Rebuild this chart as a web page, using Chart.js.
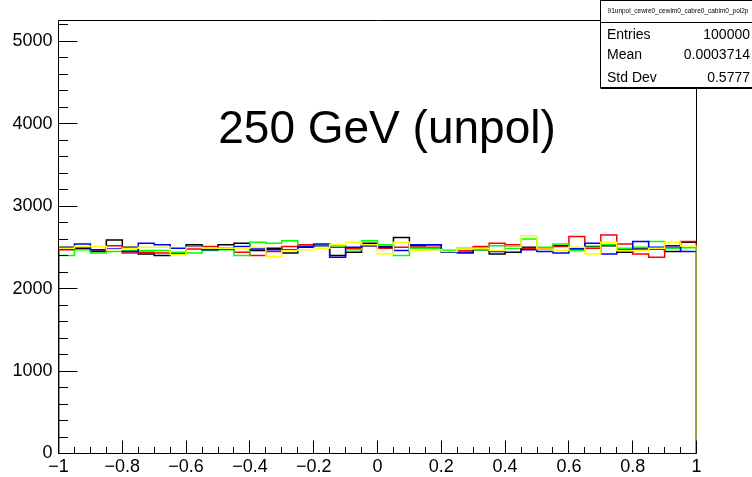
<!DOCTYPE html>
<html>
<head>
<meta charset="utf-8">
<script src="https://cdn.jsdelivr.net/npm/chart.js@4/dist/chart.umd.min.js"></script>
<style>
  html, body { margin: 0; padding: 0; background: #fff; }
</style>
</head>
<body>
<canvas id="chart-graph-costheta" width="752" height="477"></canvas>
<script>
// histogram: 40 bins from -1 to 1
var binLow = -1, binHigh = 1, nBins = 40;

var blackValues = [2500, 2490, 2450, 2590, 2500, 2420, 2400, 2420, 2530, 2480,
                   2530, 2550, 2460, 2490, 2430, 2500, 2520, 2400, 2440, 2550,
                   2510, 2620, 2520, 2530, 2450, 2440, 2470, 2420, 2440, 2500,
                   2480, 2520, 2480, 2510, 2520, 2440, 2480, 2480, 2450, 2560];
var redValues = [2470, 2500, 2460, 2520, 2430, 2440, 2430, 2430, 2480, 2510,
                 2490, 2440, 2400, 2450, 2510, 2530, 2530, 2500, 2490, 2520,
                 2490, 2500, 2500, 2500, 2460, 2460, 2510, 2550, 2530, 2490,
                 2490, 2510, 2630, 2490, 2650, 2540, 2420, 2380, 2500, 2570];
var greenValues = [2400, 2470, 2430, 2450, 2460, 2460, 2460, 2440, 2430, 2460,
                   2470, 2400, 2560, 2550, 2580, 2520, 2530, 2520, 2470, 2580,
                   2530, 2400, 2490, 2490, 2460, 2490, 2470, 2520, 2490, 2600,
                   2500, 2540, 2460, 2500, 2530, 2490, 2500, 2570, 2490, 2495];
var blueValues = [2480, 2540, 2470, 2480, 2450, 2550, 2530, 2490, 2510, 2470,
                  2480, 2510, 2480, 2470, 2470, 2510, 2540, 2380, 2500, 2520,
                  2500, 2460, 2530, 2530, 2440, 2430, 2490, 2450, 2500, 2470,
                  2450, 2430, 2490, 2550, 2420, 2470, 2570, 2500, 2520, 2450];
var yellowValues = [2490, 2510, 2510, 2470, 2490, 2500, 2500, 2410, 2500, 2490,
                    2490, 2490, 2500, 2390, 2460, 2470, 2490, 2530, 2560, 2530,
                    2420, 2560, 2460, 2470, 2450, 2480, 2490, 2460, 2500, 2640,
                    2480, 2460, 2500, 2420, 2560, 2460, 2460, 2490, 2560, 2515];

var xTickLabels = [-1, -0.8, -0.6, -0.4, -0.2, 0, 0.2, 0.4, 0.6, 0.8, 1];
var yTickLabels = [0, 1000, 2000, 3000, 4000, 5000];

var histTitle = '91unpol_cewre0_cewim0_cabre0_cabim0_pol2p';
var statNames = ['Entries', 'Mean', 'Std Dev'];
var statValues = ['100000', '0.0003714', '0.5777'];
var plotLabel = '250 GeV (unpol)';

var FONT = '"Liberation Sans", Arial, Helvetica, sans-serif';

function histPoints(values) {
    var w = (binHigh - binLow) / nBins;
    var pts = [{x: binLow, y: 0}];
    values.forEach(function (v, i) {
        pts.push({x: binLow + i * w, y: v});
    });
    pts.push({x: binHigh, y: 0});
    return pts;
}

function fmt(v) {
    var s = String(Number(v.toFixed(2)));
    return s.replace('-', '\u2212');
}

function isMajorX(v) {
    return xTickLabels.some(function (t) { return Math.abs(t - v) < 1e-6; });
}

var rootFrame = {
    id: 'rootFrame',
    beforeDatasetsDraw: function (chart) {
        var a = chart.chartArea, ctx = chart.ctx;
        ctx.save();
        ctx.strokeStyle = '#000';
        ctx.lineWidth = 1;
        ctx.beginPath();
        ctx.moveTo(a.left, a.top);
        ctx.lineTo(a.right, a.top);
        ctx.lineTo(a.right, a.bottom);
        ctx.stroke();
        ctx.restore();
    },
    afterDatasetsDraw: function (chart) {
        var a = chart.chartArea, ctx = chart.ctx;
        var xs = chart.scales.x, ys = chart.scales.y;
        ctx.save();
        ctx.strokeStyle = '#000';
        ctx.lineWidth = 1;
        ctx.beginPath();
        ctx.moveTo(a.left, a.top);
        ctx.lineTo(a.left, a.bottom);
        ctx.lineTo(a.right, a.bottom);
        xs.ticks.forEach(function (t) {
            var px = Math.floor(xs.getPixelForValue(t.value)) + 0.5;
            var len = isMajorX(t.value) ? 13 : 6.5;
            ctx.moveTo(px, a.bottom);
            ctx.lineTo(px, a.bottom - len);
        });
        ys.ticks.forEach(function (t) {
            var py = Math.floor(ys.getPixelForValue(t.value)) + 0.5;
            var len = (t.value % 1000 === 0) ? 19 : 9.5;
            ctx.moveTo(a.left, py);
            ctx.lineTo(a.left + len, py);
        });
        ctx.stroke();
        ctx.restore();
    },
    afterDraw: function (chart) {
        var ctx = chart.ctx;
        ctx.save();
        // label inside the pad
        ctx.fillStyle = '#000';
        ctx.font = '46px ' + FONT;
        ctx.textAlign = 'center';
        ctx.textBaseline = 'alphabetic';
        ctx.fillText(plotLabel, 387, 143);

        // stats box
        var bx = 600.5, by = 0.5, bw = 152, bh = 87;
        ctx.fillStyle = '#fff';
        ctx.fillRect(bx, by, bw, bh);
        ctx.strokeStyle = '#000';
        ctx.lineWidth = 1;
        ctx.strokeRect(bx, by, bw, bh);
        ctx.beginPath();
        ctx.moveTo(bx, 22.5);
        ctx.lineTo(bx + bw, 22.5);
        ctx.moveTo(bx, 88.5);
        ctx.lineTo(bx + bw, 88.5);
        ctx.stroke();

        ctx.fillStyle = '#000';
        ctx.font = '6.5px ' + FONT;
        ctx.textAlign = 'center';
        ctx.fillText(histTitle, 678, 13, 144);

        ctx.font = '14px ' + FONT;
        var rows = [38.5, 59, 82];
        statNames.forEach(function (n, i) {
            ctx.textAlign = 'left';
            ctx.fillText(n, 607, rows[i]);
            ctx.textAlign = 'right';
            ctx.fillText(statValues[i], 750, rows[i]);
        });
        ctx.restore();
    }
};

var series = [
    {values: blackValues, color: '#000000'},
    {values: redValues, color: '#ff0000'},
    {values: greenValues, color: '#00ff00'},
    {values: blueValues, color: '#0000ff'},
    {values: yellowValues, color: '#ffff00'}
];

var datasets = series.map(function (s, i) {
    return {
        data: histPoints(s.values),
        borderColor: s.color,
        borderWidth: 1.5,
        stepped: 'before',
        fill: false,
        pointRadius: 0,
        tension: 0,
        order: series.length - i
    };
});

new Chart(document.getElementById('chart-graph-costheta').getContext('2d'), {
    type: 'line',
    data: {datasets: datasets},
    options: {
        responsive: false,
        animation: false,
        events: [],
        layout: {padding: {top: 20.5, right: 55.5, left: 0, bottom: 0}},
        plugins: {legend: {display: false}, tooltip: {enabled: false}, title: {display: false}},
        scales: {
            x: {
                type: 'linear',
                min: binLow,
                max: binHigh,
                grid: {display: false, drawTicks: false},
                border: {display: false},
                afterFit: function (scale) { scale.height = 23.5; },
                ticks: {
                    stepSize: 0.05,
                    autoSkip: false,
                    maxRotation: 0,
                    includeBounds: false,
                    padding: 3,
                    color: '#000',
                    font: {family: FONT, size: 18},
                    callback: function (v) { return isMajorX(v) ? fmt(v) : ''; }
                }
            },
            y: {
                min: 0,
                max: 5250,
                grid: {display: false, drawTicks: false},
                border: {display: false},
                afterFit: function (scale) { scale.width = 58.5; },
                ticks: {
                    stepSize: 200,
                    autoSkip: false,
                    includeBounds: false,
                    padding: 6,
                    color: '#000',
                    font: {family: FONT, size: 18},
                    callback: function (v) { return yTickLabels.indexOf(v) >= 0 ? String(v) : ''; }
                }
            }
        }
    },
    plugins: [rootFrame]
});
</script>
</body>
</html>
